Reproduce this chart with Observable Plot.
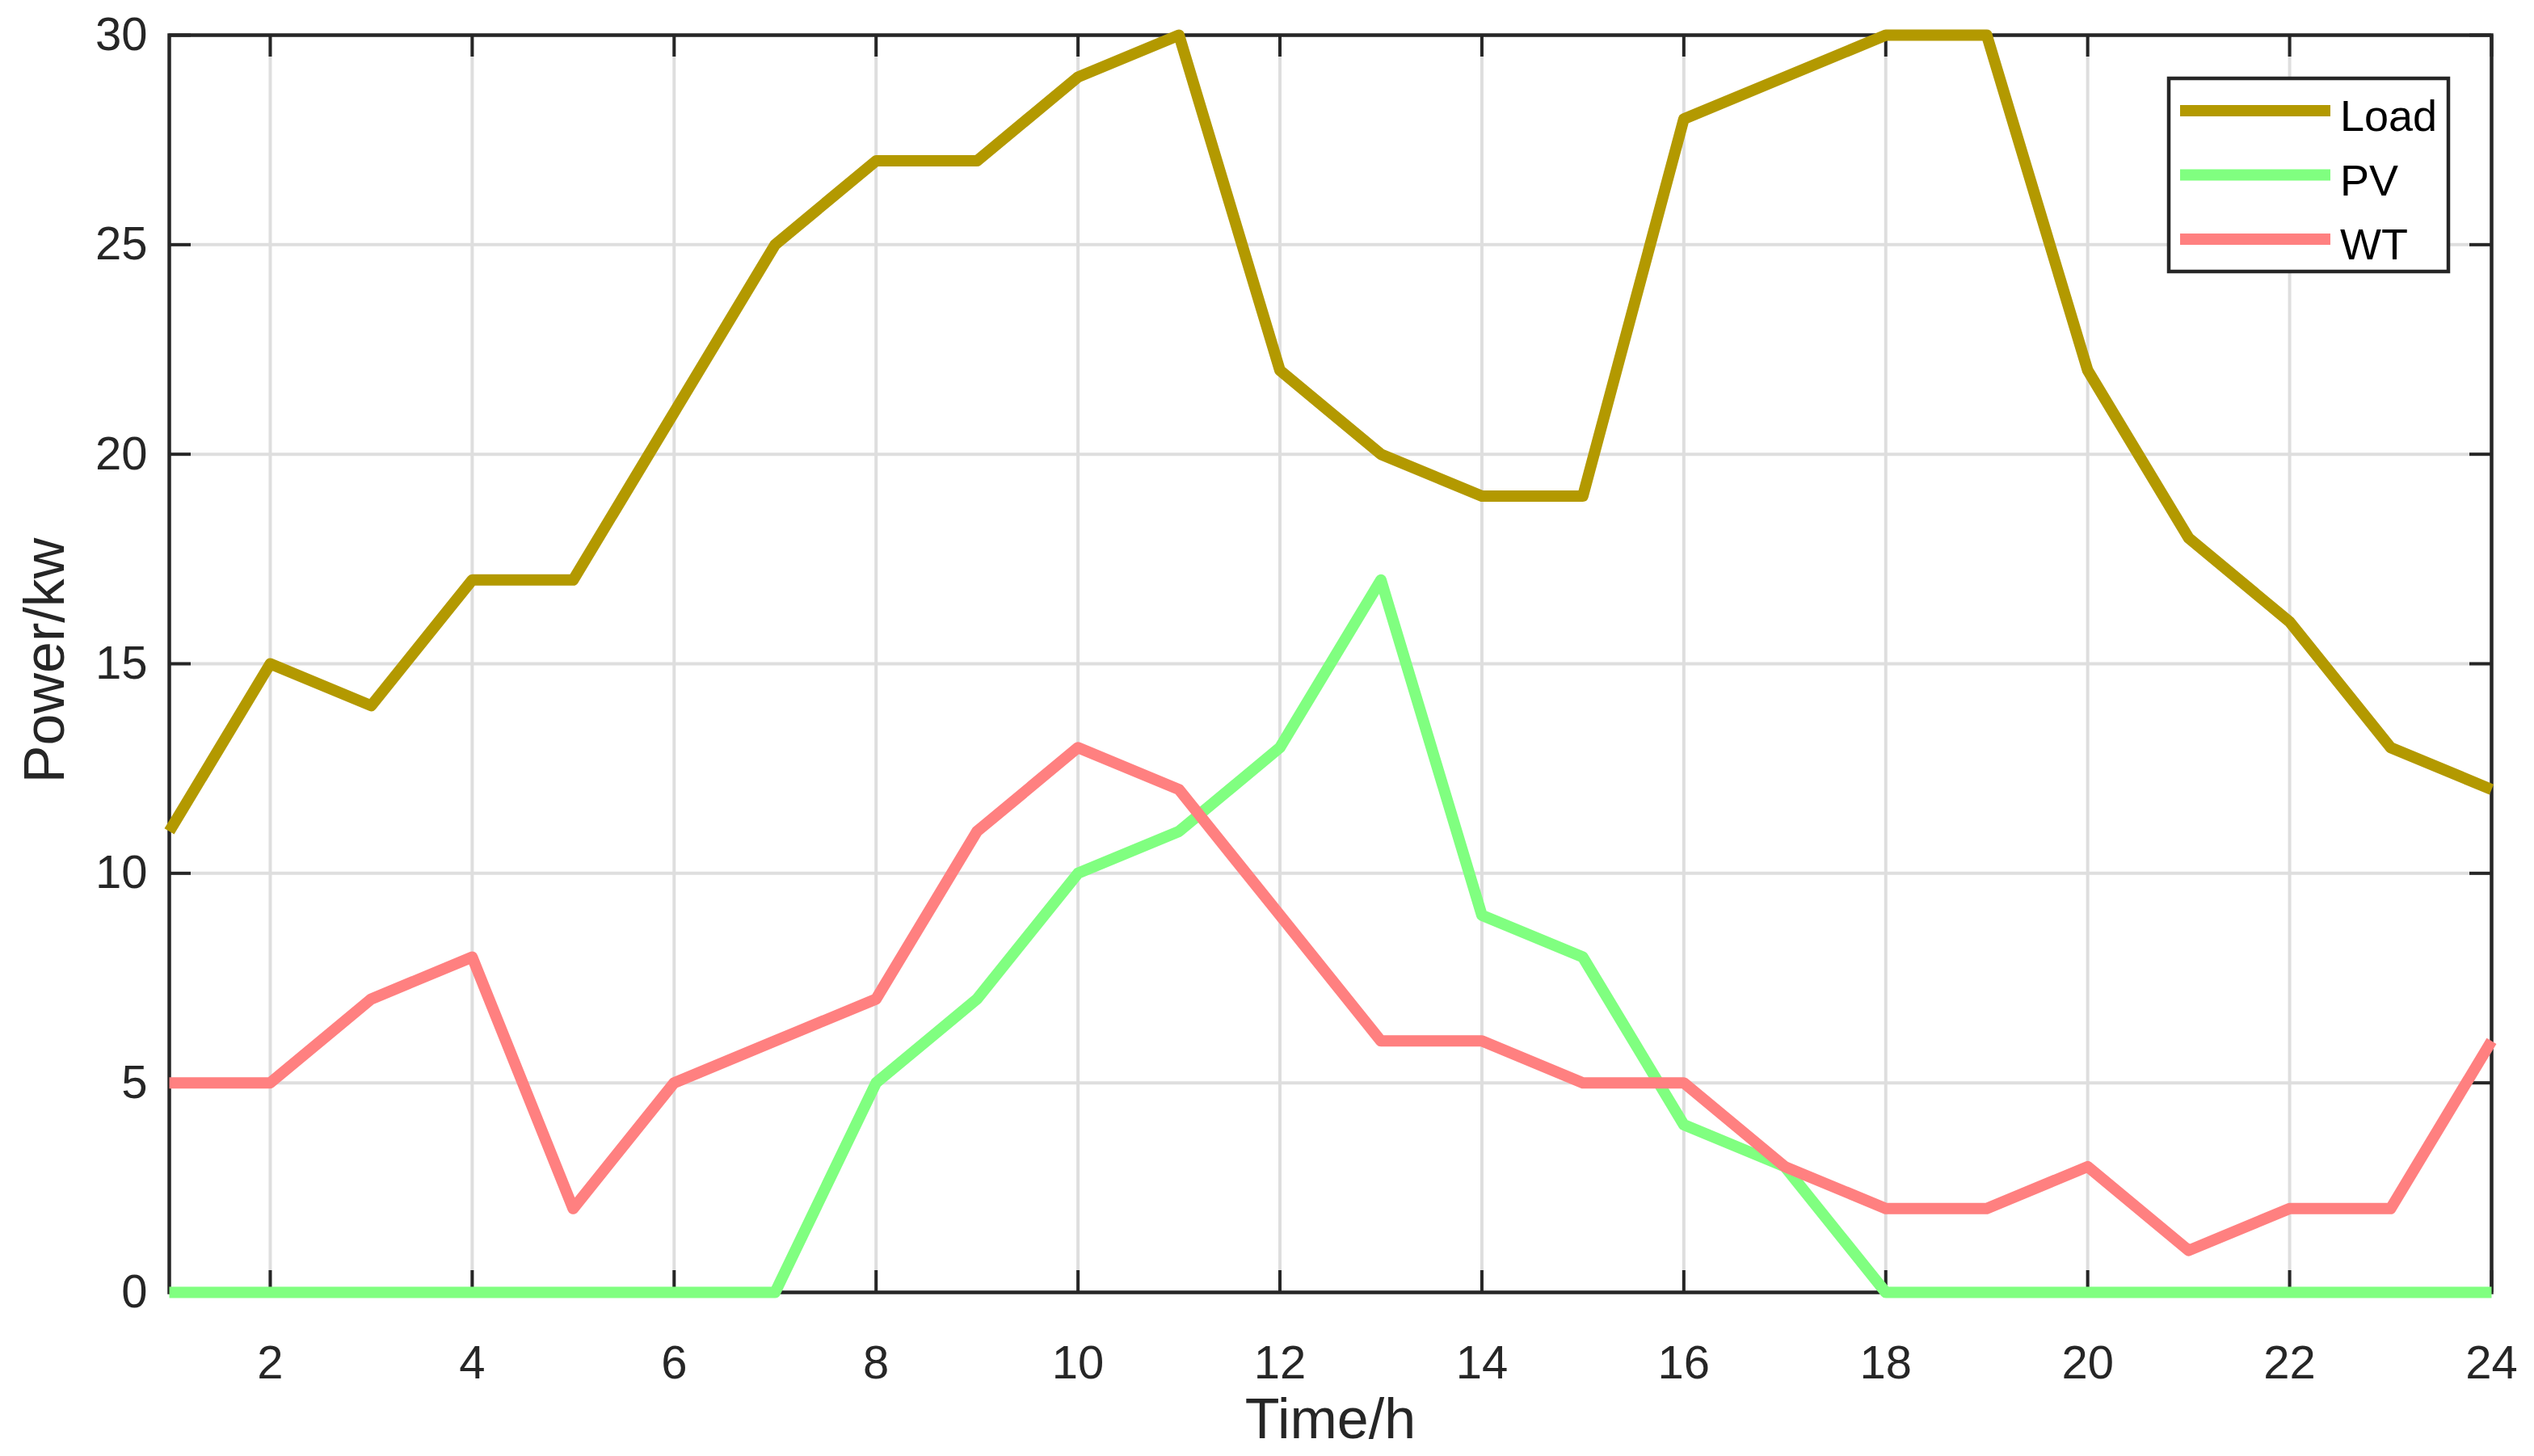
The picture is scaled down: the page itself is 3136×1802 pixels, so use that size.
<!DOCTYPE html>
<html>
<head>
<meta charset="utf-8">
<script src="https://cdn.jsdelivr.net/npm/d3@7"></script>
<script src="https://cdn.jsdelivr.net/npm/@observablehq/plot@0.6"></script>
<style>
html, body { margin: 0; padding: 0; background: #fff; }
#wrap { position: relative; width: 3136px; height: 1802px; overflow: hidden; background: #fff; }
#wrap svg { display: block; }
#legend { position: absolute; left: 0; top: 0; }
</style>
</head>
<body>
<div id="wrap"></div>
<script>
// ---- data ----
const hours = [1, 2, 3, 4, 5, 6, 7, 8, 9, 10, 11, 12, 13, 14, 15, 16, 17, 18, 19, 20, 21, 22, 23, 24];
const load  = [11, 15, 14, 17, 17, 21, 25, 27, 27, 29, 30, 22, 20, 19, 19, 28, 29, 30, 30, 22, 18, 16, 13, 12];
const pv    = [0, 0, 0, 0, 0, 0, 0, 5, 7, 10, 11, 13, 17, 9, 8, 4, 3, 0, 0, 0, 0, 0, 0, 0];
const wt    = [5, 5, 7, 8, 2, 5, 6, 7, 11, 13, 12, 9, 6, 6, 5, 5, 3, 2, 2, 3, 1, 2, 2, 6];
const seriesNames  = ["Load", "PV", "WT"];
const seriesColors = ["#b39900", "#80ff80", "#ff8080"];
const xTicks = [2, 4, 6, 8, 10, 12, 14, 16, 18, 20, 22, 24];
const yTicks = [0, 5, 10, 15, 20, 25, 30];
const xLabel = "Time/h";
const yLabel = "Power/kw";

// ---- layout ----
const W = 3136, H = 1802;
const mL = 209, mR = 53, mT = 43, mB = 203;
const innerW = W - mL - mR, innerH = H - mT - mB;
const tickLen = 27;
const ink = "#262626";
const gridColor = "#dedede";
const lineW = 14;
const font = "'Liberation Sans', Arial, Helvetica, sans-serif";

const seriesValues = [load, pv, wt];
const rows = [];
seriesNames.forEach((name, k) => {
  hours.forEach((h, i) => rows.push({series: name, hour: h, value: seriesValues[k][i]}));
});

const chart = Plot.plot({
  width: W,
  height: H,
  marginLeft: mL,
  marginRight: mR,
  marginTop: mT,
  marginBottom: mB,
  style: {fontFamily: font, color: ink, background: "#fff", overflow: "visible"},
  x: {domain: [1, 24]},
  y: {domain: [0, 30]},
  color: {domain: seriesNames, range: seriesColors},
  marks: [
    Plot.gridX(xTicks, {stroke: gridColor, strokeOpacity: 1, strokeWidth: 4}),
    Plot.gridY(yTicks, {stroke: gridColor, strokeOpacity: 1, strokeWidth: 4}),
    Plot.frame({stroke: ink, strokeWidth: 4.5}),
    Plot.tickX(xTicks, {x: d => d, insetTop: innerH - tickLen, stroke: ink, strokeWidth: 4}),
    Plot.tickX(xTicks, {x: d => d, insetBottom: innerH - tickLen, stroke: ink, strokeWidth: 4}),
    Plot.tickY(yTicks, {y: d => d, insetRight: innerW - tickLen, stroke: ink, strokeWidth: 4}),
    Plot.tickY(yTicks, {y: d => d, insetLeft: innerW - tickLen, stroke: ink, strokeWidth: 4}),
    Plot.axisX({ticks: xTicks, tickSize: 0, tickPadding: 65, fontSize: 58, label: null, fill: ink}),
    Plot.axisY({ticks: yTicks, tickSize: 0, tickPadding: 27, fontSize: 58, label: null, fill: ink}),
    Plot.text([xLabel], {text: d => d, frameAnchor: "bottom", dy: 131, textAnchor: "middle", lineAnchor: "top", fontSize: 70, fill: ink}),
    Plot.text([yLabel], {text: d => d, frameAnchor: "left", dx: -153, dy: -4, rotate: -90, textAnchor: "middle", lineAnchor: "middle", fontSize: 70, fill: ink}),
    Plot.line(rows, {x: "hour", y: "value", z: "series", stroke: "series", strokeWidth: lineW, strokeLinejoin: "round", strokeLinecap: "butt"})
  ]
});

const wrap = document.getElementById("wrap");
wrap.appendChild(chart);

// ---- legend (inside the axes, top right) ----
const lg = {x: 2684, y: 97, w: 346, h: 239, lineX1: 2698, lineX2: 2884, textX: 2896, firstY: 137, step: 79.5, fontSize: 54};
const legend = d3.create("svg")
  .attr("id", "legend")
  .attr("width", W)
  .attr("height", H)
  .style("pointer-events", "none");
legend.append("rect")
  .attr("x", lg.x).attr("y", lg.y).attr("width", lg.w).attr("height", lg.h)
  .attr("fill", "#fff").attr("stroke", ink).attr("stroke-width", 4.5);
const items = legend.selectAll("g.item").data(seriesNames).join("g").attr("class", "item");
items.append("line")
  .attr("x1", lg.lineX1).attr("x2", lg.lineX2)
  .attr("y1", (d, i) => lg.firstY + i * lg.step)
  .attr("y2", (d, i) => lg.firstY + i * lg.step)
  .attr("stroke", (d, i) => seriesColors[i])
  .attr("stroke-width", lineW);
items.append("text")
  .attr("x", lg.textX)
  .attr("y", (d, i) => lg.firstY + i * lg.step + 25)
  .attr("font-family", font)
  .attr("font-size", lg.fontSize)
  .attr("fill", "#000")
  .text(d => d);
wrap.appendChild(legend.node());
</script>
</body>
</html>
